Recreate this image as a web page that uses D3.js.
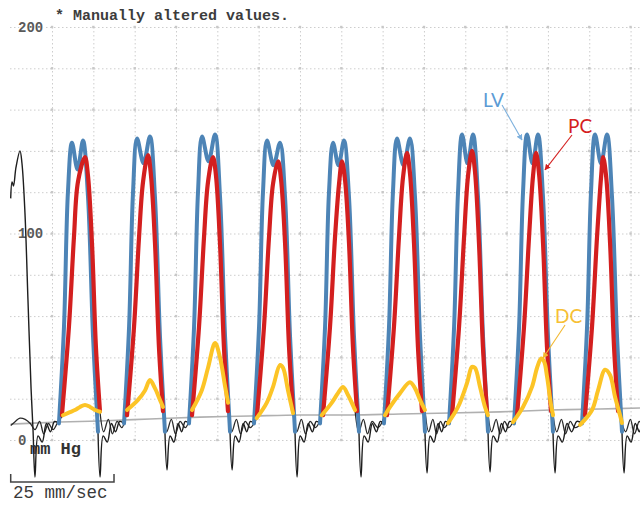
<!DOCTYPE html>
<html><head><meta charset="utf-8">
<script src="https://cdn.jsdelivr.net/npm/d3@7"></script>
<style>html,body{margin:0;padding:0;background:#fff;} svg{display:block;}</style>
</head><body>
<svg id="chart" width="640" height="505"></svg>
<script>
// ---------- data (time in ms, pressure in mm Hg) ----------
const yTickLabels = [0, 100, 200];
const titleText = "* Manually altered values.";
const unitText = "mm Hg";
const speedText = "25 mm/sec";

// LV (blue) – one array per beat
const lvBeats = [
  [[467,8],[516,55],[554,120],[593,144],[647,131],[700,145],[748,118],[797,50],[845,4]],
  [[1097,8],[1146,55],[1184,120],[1223,146],[1286,134],[1348,147],[1396,118],[1445,50],[1493,4]],
  [[1726,8],[1775,55],[1813,120],[1852,147],[1915,135],[1978,148],[2026,118],[2075,50],[2123,4]],
  [[2355,8],[2404,55],[2442,120],[2481,145],[2544,133],[2607,144],[2655,118],[2704,50],[2752,4]],
  [[2994,8],[3043,55],[3081,120],[3120,144],[3173,133],[3226,145],[3274,118],[3323,50],[3371,4]],
  [[3613,8],[3662,55],[3700,120],[3739,146],[3802,133],[3865,146],[3913,118],[3962,50],[4010,4]],
  [[4243,8],[4292,55],[4330,120],[4369,148],[4422,134],[4475,148],[4523,118],[4572,50],[4620,4]],
  [[4872,8],[4921,55],[4959,120],[4998,148],[5051,134],[5104,148],[5152,118],[5201,50],[5249,4]],
  [[5530,8],[5579,55],[5617,120],[5656,148],[5714,134],[5772,148],[5820,118],[5869,50],[5917,4]]
];

// PC (red)
const pcBeats = [
  [[496,12],[564,55],[612,98],[651,125],[719,137],[748,128],[787,95],[825,45],[864,14]],
  [[1126,12],[1194,55],[1242,98],[1281,125],[1329,138],[1358,128],[1397,95],[1435,45],[1474,14]],
  [[1755,12],[1823,55],[1871,98],[1910,125],[1958,137],[1987,128],[2026,95],[2064,45],[2103,14]],
  [[2384,12],[2452,55],[2500,98],[2539,124],[2588,135],[2617,126],[2656,95],[2694,45],[2733,14]],
  [[3023,12],[3091,55],[3139,98],[3178,124],[3207,135],[3236,126],[3275,95],[3313,45],[3352,14]],
  [[3642,12],[3710,55],[3758,98],[3797,127],[3836,139],[3865,129],[3904,95],[3942,45],[3981,14]],
  [[4272,12],[4340,55],[4388,98],[4427,128],[4465,140],[4494,130],[4533,95],[4571,45],[4610,14]],
  [[4901,12],[4969,55],[5017,98],[5056,128],[5085,139],[5114,129],[5153,95],[5191,45],[5230,14]],
  [[5559,12],[5627,55],[5675,98],[5714,127],[5734,137],[5763,128],[5802,95],[5840,45],[5879,14]]
];

// DC (yellow)
const dcBeats = [
  [[506,12],[574,13.5],[622,14.5],[671,16],[719,17],[768,16],[816,14.5],[864,13.7]],
  [[1126,14.5],[1232,19.4],[1300,24],[1348,29],[1397,25],[1445,19.4],[1474,16]],
  [[1755,14.5],[1849,24],[1910,35],[1978,47],[2026,40],[2075,26],[2104,18]],
  [[2381,10.6],[2478,18],[2539,25.7],[2607,36.3],[2636,35],[2684,24],[2733,13]],
  [[3010,12],[3107,18],[3168,22.7],[3217,25.7],[3265,21.8],[3333,14.5]],
  [[3623,12],[3672,16],[3769,22.7],[3865,28],[3914,25],[3962,19.4],[4010,14.5]],
  [[4233,8.2],[4330,16],[4417,27.6],[4465,35.4],[4494,34.9],[4543,25.7],[4591,16],[4620,12]],
  [[4862,8.7],[4959,16],[5046,25.7],[5095,35],[5134,39.5],[5163,38],[5192,30.5],[5230,17],[5250,12]],
  [[5511,7.3],[5627,14.5],[5685,24],[5753,34],[5801,31.5],[5850,20.8],[5898,12],[5917,8.2]]
];

// black monitor LV trace (visible parts between overlaid beats)
const monitorTrace = [
  [[0,117],[13,125],[27,123],[51,132],[90,140],[109,134],[138,110],[167,68],[197,25],[216,5],[235,-18],[265,2],[305,-1],[345,8],[385,4],[425,9],[467,8]],
  [[845,4],[865,-18],[895,2],[935,-1],[975,8],[1015,4],[1055,9],[1097,8]],
  [[1493,4],[1513,-14.5],[1543,2],[1580,-1],[1620,8],[1655,4],[1690,9],[1726,8]],
  [[2123,4],[2143,-14.5],[2173,2],[2210,-1],[2250,8],[2285,4],[2320,9],[2355,8]],
  [[2752,4],[2772,-18],[2802,2],[2840,-1],[2880,8],[2920,4],[2958,9],[2994,8]],
  [[3371,4],[3391,-18],[3421,2],[3460,-1],[3500,8],[3540,4],[3578,9],[3613,8]],
  [[4010,4],[4030,-16],[4060,2],[4097,-1],[4137,8],[4172,4],[4208,9],[4243,8]],
  [[4620,4],[4640,-15.5],[4670,2],[4710,-1],[4750,8],[4790,4],[4830,9],[4872,8]],
  [[5249,4],[5269,-16],[5299,2],[5340,-1],[5385,8],[5430,4],[5480,9],[5530,8]],
  [[5917,4],[5937,-16],[5967,2],[6005,-1],[6045,8],[6085,4],[6100,6]]
];

// black wedge trace (visible parts between beats)
const wedgeTrace = [
  [[0,7],[45,9],[90,10.6],[140,10],[190,8],[235,5],[280,9],[320,3],[365,8],[410,5],[460,9],[506,12]],
  [[864,13.7],[900,4],[945,10],[985,3],[1030,9],[1075,6],[1126,14.5]],
  [[1474,16],[1510,4],[1555,10],[1595,3],[1640,9],[1690,6],[1755,14.5]],
  [[2104,18],[2140,4],[2185,10],[2225,3],[2270,9],[2320,6],[2381,10.6]],
  [[2733,13],[2769,4],[2814,10],[2854,3],[2899,9],[2950,6],[3010,12]],
  [[3333,14.5],[3369,4],[3414,10],[3454,3],[3499,9],[3555,6],[3623,12]],
  [[4010,14.5],[4046,4],[4086,10],[4122,3],[4160,9],[4195,6],[4233,8.2]],
  [[4620,12],[4656,4],[4699,10],[4737,3],[4780,9],[4820,6],[4862,8.7]],
  [[5250,12],[5286,4],[5331,10],[5371,3],[5416,9],[5460,6],[5511,7.3]],
  [[5917,8.2],[5953,4],[5998,10],[6038,3],[6083,9],[6100,8]]
];

// grey slowly rising reference line
const baselineTrace = [[0,7.7],[477,8.7],[864,9.2],[1348,10.2],[1832,11.1],[2317,11.6],[2801,12.1],[3285,12.1],[3769,12.6],[4253,13.1],[4737,13.6],[5221,14.5],[5705,15],[6092,15.5]];

// annotation labels
const annotations = [
  {text:"LV", t:4572, v:161.3, from:[4756,162.2], to:[4949,145.3], color:"#5b9bd5", arrow:"#7db0dd"},
  {text:"PC", t:5395, v:148.7, from:[5433,147.7], to:[5172,130.8], color:"#d42020", arrow:"#d42020"},
  {text:"DC", t:5269, v:56.7, from:[5366,55.7], to:[5153,39.7], color:"#f7c033", arrow:"#f2b830"}
];

// ---------- drawing ----------
const svg = d3.select("#chart");
const x = d3.scaleLinear().domain([0, 6100]).range([10.7, 640.9]);
const y = d3.scaleLinear().domain([0, 200]).range([440, 27]);

const gridColor = "#cdcdcd";
svg.append("g").attr("transform","translate(10,0)")
  .call(d3.axisRight(y).ticks(10).tickSize(630).tickFormat(""))
  .call(g => g.select(".domain").remove())
  .call(g => g.selectAll("line").attr("stroke", gridColor).attr("stroke-dasharray","1.5,2.5"));
const xGrid = d3.range(400, 6101, 400);
svg.append("g").attr("transform","translate(0,27)")
  .call(d3.axisBottom(x).tickValues(xGrid).tickSize(413).tickFormat(""))
  .call(g => g.select(".domain").remove())
  .call(g => g.selectAll("line").attr("stroke", gridColor).attr("stroke-dasharray","1.5,2.5"));
const yGrid = y.ticks(10);
svg.append("g").selectAll("rect")
  .data(d3.cross(xGrid, yGrid)).join("rect")
  .attr("x", d => x(d[0]) - 1.2).attr("y", d => y(d[1]) - 1.2)
  .attr("width", 2.4).attr("height", 2.4).attr("fill", "#c8c8c8");

svg.append("g").attr("transform","translate(14,0)")
  .call(d3.axisRight(y).tickValues(yTickLabels).tickSize(0).tickPadding(4).tickFormat(d3.format("d")))
  .call(g => g.select(".domain").remove())
  .call(g => g.selectAll("text")
      .attr("font-family","Liberation Mono, monospace").attr("font-size", 14)
      .attr("font-weight","bold").attr("fill","#5a5a5a")
      .attr("stroke","#fff").attr("stroke-width",3).attr("paint-order","stroke"));

const line = d3.line().x(d => x(d[0])).y(d => y(d[1])).curve(d3.curveCatmullRom.alpha(0.5));

svg.append("path").datum(baselineTrace).attr("d", line)
  .attr("fill","none").attr("stroke","#b0b0b0").attr("stroke-width",1.6);

svg.append("g").selectAll("path").data(wedgeTrace).join("path").attr("d", line)
  .attr("fill","none").attr("stroke","#2a2a2a").attr("stroke-width",1.3);
svg.append("g").selectAll("path").data(monitorTrace).join("path").attr("d", line)
  .attr("fill","none").attr("stroke","#1e1e1e").attr("stroke-width",1.4);

svg.append("g").selectAll("path").data(lvBeats).join("path").attr("d", line)
  .attr("fill","none").attr("stroke","#4d84b6").attr("stroke-width",4)
  .attr("stroke-linecap","round").attr("stroke-linejoin","round");
svg.append("g").selectAll("path").data(pcBeats).join("path").attr("d", line)
  .attr("fill","none").attr("stroke","#d31f1f").attr("stroke-width",4.2)
  .attr("stroke-linecap","round").attr("stroke-linejoin","round");
svg.append("g").selectAll("path").data(dcBeats).join("path").attr("d", line)
  .attr("fill","none").attr("stroke","#fcc426").attr("stroke-width",4)
  .attr("stroke-linecap","round").attr("stroke-linejoin","round");

const defs = svg.append("defs");
annotations.forEach((a, i) => {
  defs.append("marker").attr("id","ah"+i).attr("viewBox","0 0 10 10")
    .attr("refX",9).attr("refY",5).attr("markerWidth",6).attr("markerHeight",6)
    .attr("orient","auto").attr("markerUnits","userSpaceOnUse")
    .append("path").attr("d","M0,0 L10,5 L0,10 z").attr("fill", a.arrow);
  svg.append("line")
    .attr("x1", x(a.from[0])).attr("y1", y(a.from[1]))
    .attr("x2", x(a.to[0])).attr("y2", y(a.to[1]))
    .attr("stroke", a.arrow).attr("stroke-width", 1.1)
    .attr("marker-end", `url(#ah${i})`);
  svg.append("text").attr("x", x(a.t)).attr("y", y(a.v))
    .attr("font-family","Lato, 'Open Sans', sans-serif").attr("font-size", 19)
    .attr("fill", a.color).text(a.text);
});

svg.append("text").attr("x",55).attr("y",20)
  .attr("font-family","Liberation Mono, monospace").attr("font-size",15).attr("font-weight","bold")
  .attr("fill","#3c3c3c").text(titleText);
svg.append("text").attr("x",30).attr("y",454)
  .attr("font-family","Liberation Mono, monospace").attr("font-size",17).attr("font-weight","bold")
  .attr("fill","#333").text(unitText);
svg.append("text").attr("x",13).attr("y",498)
  .attr("font-family","Liberation Mono, monospace").attr("font-size",17.5)
  .attr("fill","#3a3a3a").text(speedText);

svg.append("path")
  .attr("d", `M${x(0)},474 L${x(0)},482 L${x(1000)},482 L${x(1000)},474`)
  .attr("fill","none").attr("stroke","#444").attr("stroke-width",1.5);
</script>
</body></html>
